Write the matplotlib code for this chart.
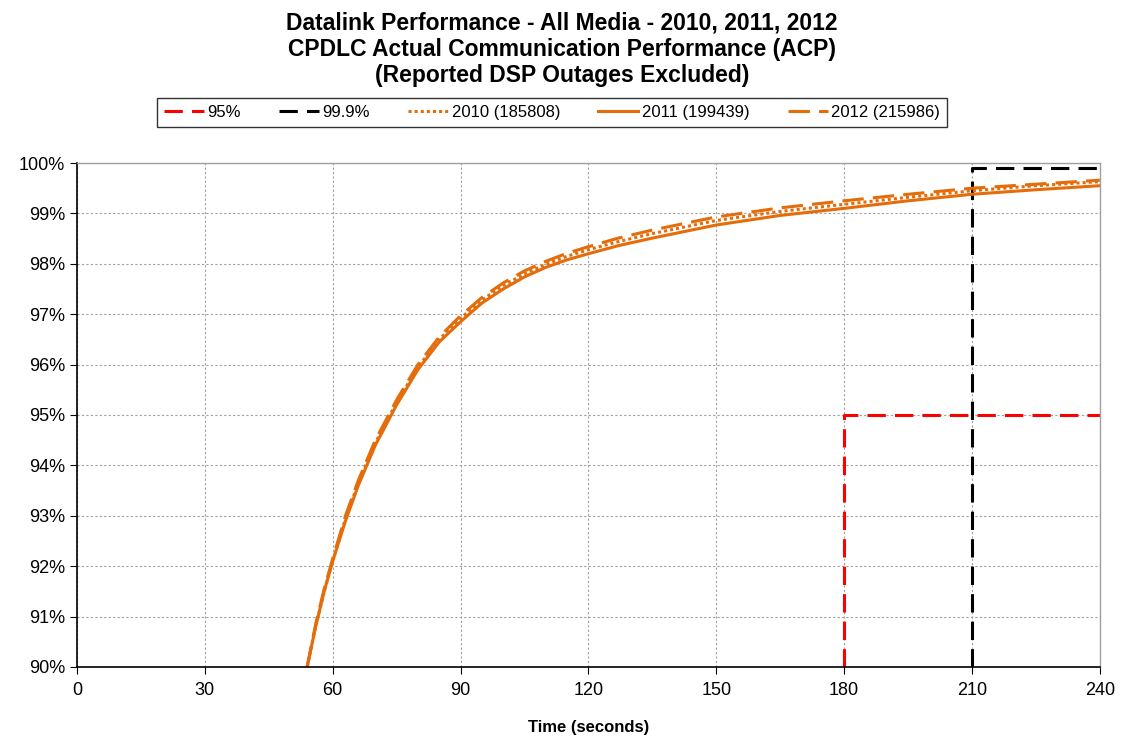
import matplotlib
matplotlib.use("Agg")
import matplotlib.pyplot as plt
from matplotlib.ticker import FuncFormatter

plt.rcParams['font.family'] = ['Liberation Sans', 'DejaVu Sans']

# time (s) and cumulative percentage per year
times = [54, 56, 58, 60, 63, 66, 70, 75, 80, 85, 90, 95, 100, 105, 110, 115, 120, 127, 135, 150, 165, 180, 195, 210, 225, 240]
pct_2010 = [90.0, 90.8, 91.5, 92.1, 92.95, 93.65, 94.45, 95.25, 95.95, 96.5, 96.92, 97.28, 97.57, 97.8, 97.99, 98.15, 98.28, 98.44, 98.6, 98.86, 99.04, 99.18, 99.32, 99.45, 99.55, 99.63]
pct_2011 = [90.0, 90.8, 91.5, 92.1, 92.9, 93.6, 94.4, 95.2, 95.9, 96.45, 96.85, 97.22, 97.5, 97.74, 97.93, 98.08, 98.2, 98.36, 98.51, 98.77, 98.96, 99.1, 99.25, 99.38, 99.47, 99.55]
pct_2012 = [90.0, 90.85, 91.55, 92.15, 93.0, 93.7, 94.5, 95.3, 96.0, 96.55, 96.97, 97.33, 97.62, 97.86, 98.05, 98.21, 98.34, 98.51, 98.67, 98.93, 99.11, 99.25, 99.38, 99.5, 99.58, 99.66]

req95_x = [180, 180, 240]
req95_y = [90, 95, 95]
req999_x = [210, 210, 240]
req999_y = [90, 99.9, 99.9]

orange = '#E46C0A'

fig = plt.figure(figsize=(11.24, 7.36), dpi=100)
ax = fig.add_axes([0.0685, 0.0938, 0.91, 0.6847])

ax.plot(req95_x, req95_y, color='#FF0000', linestyle=(0, (6, 3)), linewidth=2.2, label='95%')
ax.plot(req999_x, req999_y, color='black', linestyle=(0, (6, 3)), linewidth=2.2, label='99.9%')
ax.plot(times, pct_2010, color=orange, linestyle=(0, (1, 1)), linewidth=2.2, label='2010 (185808)')
ax.plot(times, pct_2011, color=orange, linestyle='-', linewidth=2.2, label='2011 (199439)')
ax.plot(times, pct_2012, color=orange, linestyle=(0, (7, 3)), linewidth=2.2, label='2012 (215986)')

ax.set_xlim(0, 240)
ax.set_ylim(90, 100)
ax.set_xticks(range(0, 241, 30))
ax.set_yticks(range(90, 101, 1))
ax.yaxis.set_major_formatter(FuncFormatter(lambda v, p: f'{v:.0f}%'))
ax.tick_params(axis='both', labelsize=13, direction='out', length=5, color='black')
ax.tick_params(axis='x', pad=6)
ax.grid(True, color='#A0A0A0', linestyle=(0, (2, 2)), linewidth=0.8)

for side in ['top', 'right']:
    ax.spines[side].set_color('#A0A0A0')
    ax.spines[side].set_linewidth(1.0)
for side in ['left', 'bottom']:
    ax.spines[side].set_color('black')
    ax.spines[side].set_linewidth(1.2)

ax.set_xlabel('Time (seconds)', fontsize=12, fontweight='bold', labelpad=15)

fig.suptitle('Datalink Performance - All Media - 2010, 2011, 2012\n'
             'CPDLC Actual Communication Performance (ACP)\n'
             '(Reported DSP Outages Excluded)',
             fontsize=16.5, fontweight='bold', y=0.985, linespacing=1.2)

leg = fig.legend(loc='center', bbox_to_anchor=(0.491, 0.847), ncol=5, fontsize=12,
                 frameon=True, fancybox=False, edgecolor='black', handlelength=2.4,
                 handletextpad=0.2, columnspacing=2.3, borderpad=0.4)
leg.get_frame().set_linewidth(1.0)

fig.savefig('out.png', dpi=100)
